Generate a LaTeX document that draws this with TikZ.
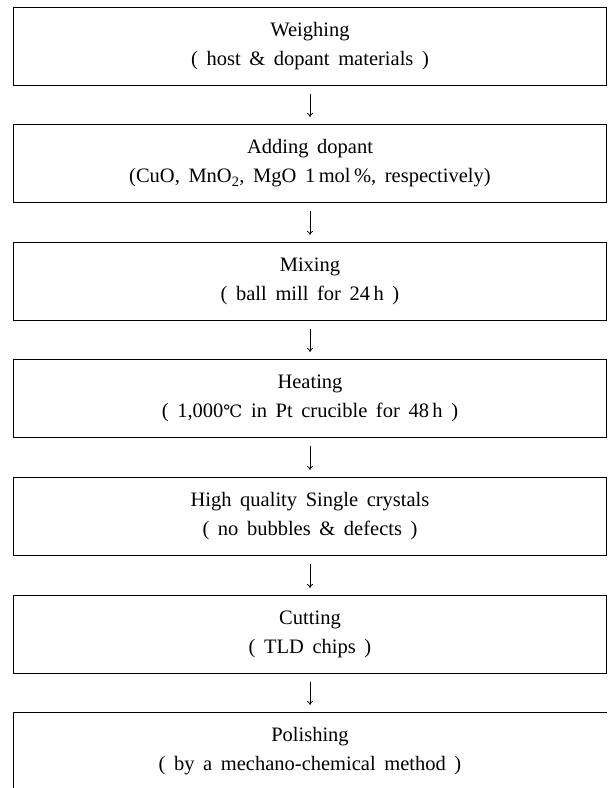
\documentclass[tikz,border=0pt]{standalone}
\usepackage{fontspec}
\setmainfont{Liberation Serif}
\newfontfamily\degfont{DejaVu Serif}
\usetikzlibrary{arrows.meta}
\newcommand\stepfont{\fontsize{20.5}{29}\selectfont\spaceskip=0.42em plus 0.1em\relax}
\newcommand\degC{{\degfont\fontsize{17}{29}\selectfont ℃}}
\tikzset{
  stepbox/.style={draw, line width=1pt, minimum width=593pt, minimum height=78pt,
    anchor=north west, inner sep=0pt, align=center, font=\stepfont},
  openbox/.style={stepbox, draw=none},
  flow/.style={line width=0.8pt, -{To[length=4pt,width=6pt]}, shorten <=8pt, shorten >=7pt},
}
\begin{document}
\begin{tikzpicture}[x=1pt,y=-1pt]
\useasboundingbox (0,0) rectangle (609,788);
\node[stepbox] (b1) at (13,7)   {Weighing\\( host \& dopant materials )};
\node[stepbox] (b2) at (13,124) {Adding dopant\\(CuO, MnO\textsubscript{2}, MgO 1\,mol\,\%, respectively)};
\node[stepbox] (b3) at (13,242) {Mixing\\( ball mill for 24\,h )};
\node[stepbox] (b4) at (13,359) {Heating\\( 1,000\degC{} in Pt crucible for 48\,h )};
\node[stepbox] (b5) at (13,477) {High quality Single crystals\\( no bubbles \& defects )};
\node[stepbox] (b6) at (13,595) {Cutting\\( TLD chips )};
\node[openbox] (b7) at (13,712) {Polishing\\( by a mechano-chemical method )};
\draw[line width=1pt] (b7.south west) -- (b7.north west) -- (b7.north east);
\foreach \a/\b in {b1/b2,b2/b3,b3/b4,b4/b5,b5/b6,b6/b7}
  \draw[flow] (\a.south) -- (\b.north);
\end{tikzpicture}
\end{document}
